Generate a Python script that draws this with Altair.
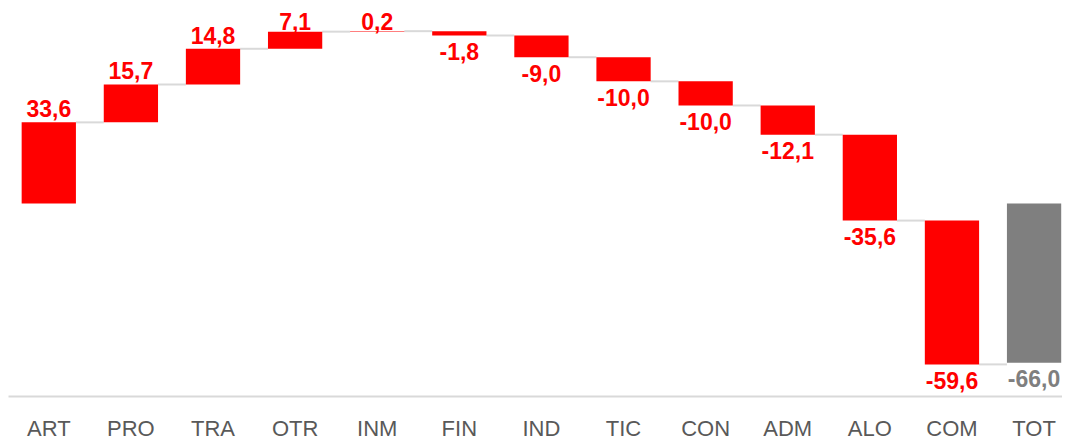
import altair as alt
import pandas as pd

categories = ["ART", "PRO", "TRA", "OTR", "INM", "FIN", "IND", "TIC", "CON", "ADM", "ALO", "COM", "TOT"]
changes = [33.6, 15.7, 14.8, 7.1, 0.2, -1.8, -9.0, -10.0, -10.0, -12.1, -35.6, -59.6]
total_value = -66.0

RED = "#FF0000"
GRAY = "#7F7F7F"

rows = []
cum = 0.0
for cat, v in zip(categories[:-1], changes):
    rows.append({"cat": cat, "start": cum, "end": cum + v, "value": v, "kind": "change"})
    cum += v
rows.append({"cat": categories[-1], "start": 0.0, "end": total_value, "value": total_value, "kind": "total"})
df = pd.DataFrame(rows)
df["label"] = df["value"].map(lambda v: f"{v:.1f}".replace(".", ","))
df["sign"] = df["value"].map(lambda v: "pos" if v >= 0 else "neg")

conn = pd.DataFrame({
    "cat": categories[:-1],
    "next": categories[1:],
    "level": df["end"].iloc[:-1].values,
})

xscale = alt.Scale(domain=categories, paddingInner=0.339, paddingOuter=0.088, align=0.945)
yscale = alt.Scale(domain=[-79.8, 81.0], nice=False, zero=False)
color_scale = alt.Scale(domain=["change", "total"], range=[RED, GRAY])

xaxis = alt.Axis(title=None, ticks=False, labelAngle=0, labelFontSize=22, labelColor="#595959",
                 labelFont="Liberation Sans", labelPadding=22, domainColor="#D9D9D9", domainWidth=2,
                 grid=False)

connectors = alt.Chart(conn).mark_rule(color="#D9D9D9", strokeWidth=2).encode(
    x=alt.X("cat:N", scale=xscale, axis=xaxis, bandPosition=1),
    x2=alt.X2("next:N", bandPosition=0),
    y=alt.Y("level:Q", scale=yscale, axis=None),
)

bars = alt.Chart(df).mark_bar().encode(
    x=alt.X("cat:N", scale=xscale, axis=xaxis, sort=categories),
    y=alt.Y("start:Q", scale=yscale, axis=None),
    y2="end:Q",
    color=alt.Color("kind:N", scale=color_scale, legend=None),
)

# positive labels sit above their bar, kept inside the chart area at the top
text_pos = alt.Chart(df).transform_filter(alt.datum.sign == "pos").transform_calculate(
    label_y="min(datum.end, 70.0)"
).mark_text(
    baseline="alphabetic", dy=-5, fontSize=23, fontWeight="bold", font="Liberation Sans"
).encode(
    x=alt.X("cat:N", scale=xscale, axis=xaxis),
    y=alt.Y("label_y:Q", scale=yscale, axis=None),
    text="label:N",
    color=alt.Color("kind:N", scale=color_scale, legend=None),
)

text_neg = alt.Chart(df).transform_filter(alt.datum.sign == "neg").mark_text(
    baseline="top", dy=6.5, fontSize=23, fontWeight="bold", font="Liberation Sans"
).encode(
    x=alt.X("cat:N", scale=xscale, axis=xaxis),
    y=alt.Y("end:Q", scale=yscale, axis=None),
    text="label:N",
    color=alt.Color("kind:N", scale=color_scale, legend=None),
)

chart = alt.layer(connectors, bars, text_pos, text_neg).properties(
    width=1054, height=388, padding=0, background="white",
).configure_view(strokeWidth=0)

chart.save("out.html", embed_options={"renderer": "svg", "actions": False})
